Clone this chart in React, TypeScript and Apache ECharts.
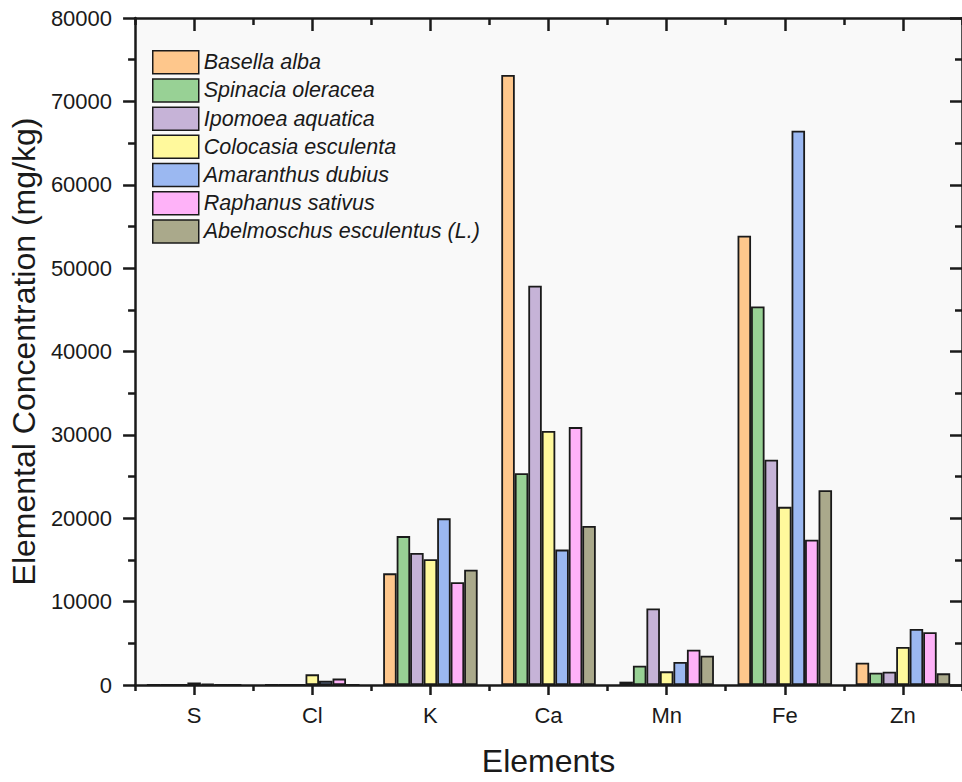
import React, { useEffect, useRef } from "react";
import * as echarts from "echarts";

const elements = ["S", "Cl", "K", "Ca", "Mn", "Fe", "Zn"];
const seriesNames = [
  "Basella alba",
  "Spinacia oleracea",
  "Ipomoea aquatica",
  "Colocasia esculenta",
  "Amaranthus dubius",
  "Raphanus sativus",
  "Abelmoschus esculentus (L.)",
];
const basellaAlba = [0, 0, 13390, 73160, 400, 53890, 2670];
const spinaciaOleracea = [0, 0, 17860, 25400, 2320, 45390, 1480];
const ipomoeaAquatica = [0, 0, 15840, 47880, 9190, 27020, 1600];
const colocasiaEsculenta = [300, 1280, 15090, 30460, 1640, 21370, 4560];
const amaranthusDubius = [120, 500, 19990, 16240, 2750, 66490, 6730];
const raphanusSativus = [0, 770, 12330, 30930, 4240, 17420, 6340];
const abelmoschusEsculentus = [0, 0, 13830, 19080, 3500, 23350, 1400];
const yTicks = [0, 10000, 20000, 30000, 40000, 50000, 60000, 70000, 80000];

const seriesValues = [
  basellaAlba,
  spinaciaOleracea,
  ipomoeaAquatica,
  colocasiaEsculenta,
  amaranthusDubius,
  raphanusSativus,
  abelmoschusEsculentus,
];
const colors = ["#fec78c", "#98d195", "#c6b3d7", "#fff99c", "#9bb8f1", "#feb2f8", "#aaa98b"];

const FONT = "Arial, 'Liberation Sans', sans-serif";
const INK = "#1a1a1a";

export default function App() {
  const ref = useRef<HTMLDivElement>(null);
  useEffect(() => {
    if (!ref.current) return;
    const chart = echarts.init(ref.current, undefined, { renderer: "svg" });
    const baseX = {
      type: "category" as const,
      data: elements,
      boundaryGap: true,
    };
    chart.setOption({
      animation: false,
      backgroundColor: "#ffffff",
      textStyle: { fontFamily: FONT },
      grid: {
        left: 133,
        right: -8,
        top: 18,
        bottom: 89.5,
        show: true,
        backgroundColor: "#f9f9f9",
        borderWidth: 0,
      },
      legend: {
        orient: "vertical",
        left: 152,
        top: 50,
        padding: 0,
        icon: "rect",
        itemWidth: 46,
        itemHeight: 23,
        itemGap: 3.7,
        data: seriesNames,
        textStyle: { fontSize: 21.5, lineHeight: 23, fontStyle: "italic", color: INK, fontFamily: FONT },
        itemStyle: { borderColor: INK, borderWidth: 1.5 },
      },
      xAxis: [
        {
          ...baseX,
          position: "bottom",
          name: "Elements",
          nameLocation: "middle",
          nameGap: 60,
          nameTextStyle: { fontSize: 32, color: INK, fontFamily: FONT },
          axisLine: { show: true, lineStyle: { color: INK, width: 2.5 } },
          axisTick: { show: true, alignWithLabel: true, length: 10, lineStyle: { color: INK, width: 2.5 } },
          axisLabel: { fontSize: 22, color: INK, margin: 19, fontFamily: FONT },
          splitLine: { show: false },
        },
        {
          ...baseX,
          position: "bottom",
          axisLine: { show: false },
          axisTick: { show: true, length: 6, lineStyle: { color: INK, width: 2.5 } },
          axisLabel: { show: false },
          splitLine: { show: false },
        },
        {
          ...baseX,
          position: "top",
          axisLine: { show: true, lineStyle: { color: INK, width: 2.5 } },
          axisTick: { show: true, inside: true, alignWithLabel: true, length: 13, lineStyle: { color: INK, width: 2.5 } },
          axisLabel: { show: false },
          splitLine: { show: false },
        },
        {
          ...baseX,
          position: "top",
          axisLine: { show: false },
          axisTick: { show: true, inside: true, length: 7, lineStyle: { color: INK, width: 2.5 } },
          axisLabel: { show: false },
          splitLine: { show: false },
        },
      ],
      yAxis: [
        {
          type: "value",
          position: "left",
          min: yTicks[0],
          max: yTicks[yTicks.length - 1],
          interval: yTicks[1] - yTicks[0],
          name: "Elemental Concentration (mg/kg)",
          nameLocation: "middle",
          nameGap: 90,
          nameTextStyle: { fontSize: 32, color: INK, fontFamily: FONT },
          axisLine: { show: true, lineStyle: { color: INK, width: 2.5 } },
          axisTick: { show: true, length: 12, lineStyle: { color: INK, width: 2.5 } },
          minorTick: { show: true, splitNumber: 2, length: 7, lineStyle: { color: INK, width: 2.5 } },
          axisLabel: {
            fontSize: 22,
            color: INK,
            margin: 23,
            fontFamily: FONT,
            formatter: (v: number) => String(v),
          },
          splitLine: { show: false },
          minorSplitLine: { show: false },
        },
        {
          type: "value",
          position: "right",
          min: yTicks[0],
          max: yTicks[yTicks.length - 1],
          interval: yTicks[1] - yTicks[0],
          axisLine: { show: true, lineStyle: { color: INK, width: 2.5 } },
          axisTick: { show: true, inside: true, length: 12, lineStyle: { color: INK, width: 2.5 } },
          minorTick: { show: true, splitNumber: 2, length: 7, lineStyle: { color: INK, width: 2.5 } },
          axisLabel: { show: false },
          splitLine: { show: false },
        },
      ],
      series: seriesNames.map((name, i) => ({
        name,
        type: "bar",
        xAxisIndex: 0,
        yAxisIndex: 0,
        data: seriesValues[i],
        barGap: "0%",
        barCategoryGap: "20%",
        itemStyle: { color: colors[i], borderColor: INK, borderWidth: 1.8 },
      })),
    });
    return () => chart.dispose();
  }, []);
  return (
    <div
      ref={ref}
      style={{ position: "absolute", left: 0, top: 0, width: 962, height: 782 }}
    />
  );
}
